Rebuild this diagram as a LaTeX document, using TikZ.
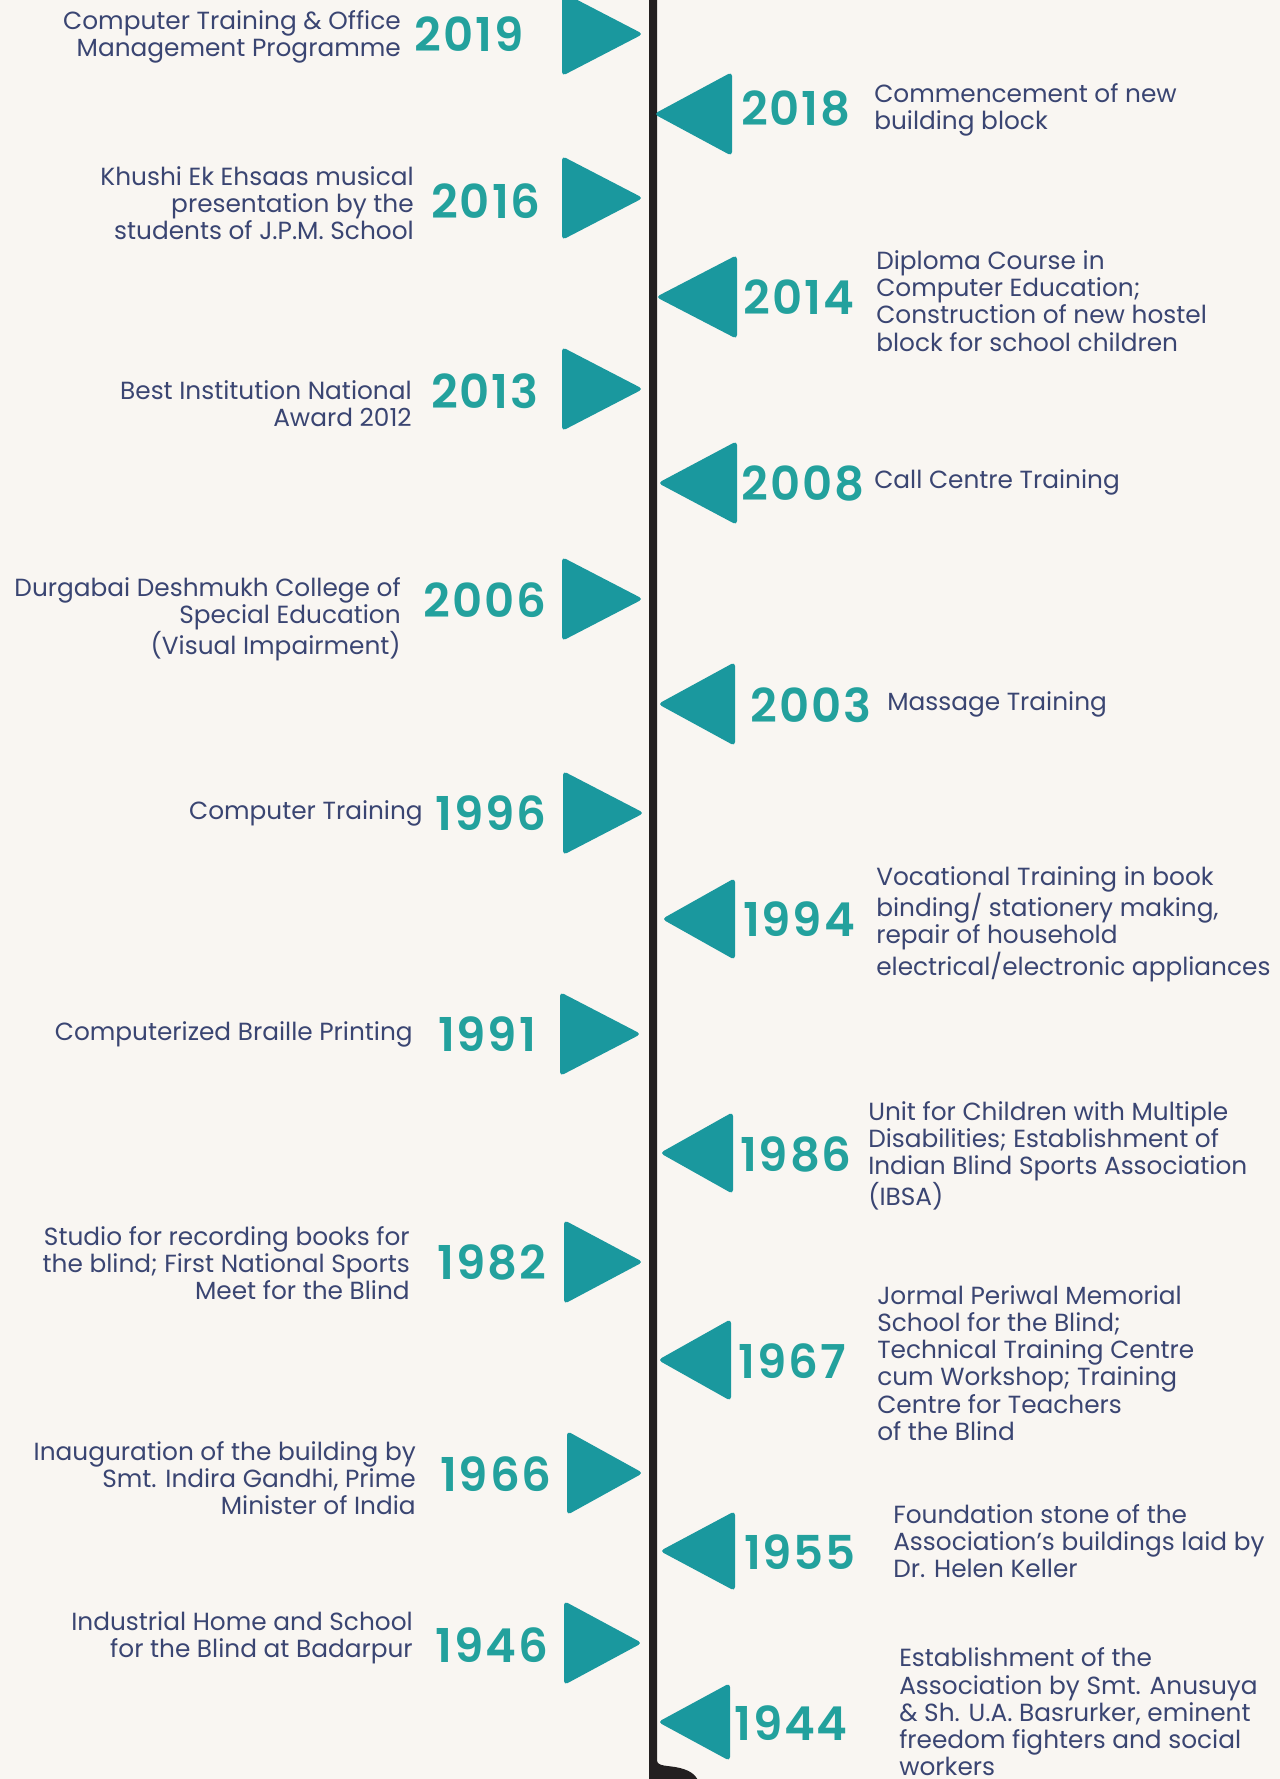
\documentclass[tikz,border=0pt]{standalone}
\usepackage{fontspec}
\setmainfont{Poppins}
\newfontfamily\yearfont{Poppins SemiBold}[LetterSpace=4]
\definecolor{paper}{HTML}{F9F6F2}
\definecolor{ink}{HTML}{3A4572}
\definecolor{tealyear}{HTML}{23A19D}
\definecolor{tealflag}{HTML}{1A989E}
\definecolor{spine}{HTML}{231F20}
\begin{document}
\begin{tikzpicture}[x=0.75pt, y=-0.75pt,
    flag/.style={fill=tealflag, rounded corners=3pt},
    year/.style={text=tealyear, font=\fontsize{35}{35}\selectfont\yearfont, inner sep=0pt},
    lnote/.style={text=ink, font=\fontsize{18.6}{20.4}\selectfont, align=right, anchor=east, inner sep=0pt},
    rnote/.style={lnote, align=left, anchor=west}]
    \useasboundingbox (0,0) rectangle (1280,1779);
    \fill[paper] (0,0) rectangle (1280,1779);
    % the spine
    \fill[spine] (649,-5) -- (657,-5) -- (657,1760) .. controls (657,1767) and (668,1765) .. (680,1768)
      .. controls (692,1771) and (697,1776) .. (700,1785) -- (649,1785) -- cycle;
    % left side
    \fill[flag] (562,-8) -- (643,34) -- (562,76) -- cycle;
    \node [year] (y2019) at (469,34) {2019};
    \node [lnote] (t2019) at (401,37) {Computer Training \& Office\\Management Programme};
    \fill[flag] (562,156) -- (643,198) -- (562,240) -- cycle;
    \node [year] (y2016) at (486,201) {2016};
    \node [lnote] (t2016) at (414,203) {Khushi Ek Ehsaas musical\\presentation by the\\students of J.P.M. School};
    \fill[flag] (562,347) -- (643,389) -- (562,431) -- cycle;
    \node [year] (y2013) at (485,391) {2013};
    \node [lnote] (t2013) at (412,404) {Best Institution National\\Award 2012};
    \fill[flag] (562,557) -- (643,599) -- (562,641) -- cycle;
    \node [year] (y2006) at (485,600) {2006};
    \node [lnote] (t2006) at (401,619) {Durgabai Deshmukh College of\\Special Education\\(Visual Impairment)};
    \fill[flag] (563,771) -- (644,813) -- (563,855) -- cycle;
    \node [year] (y1996) at (491,813) {1996};
    \node [lnote] (t1996) at (423,813) {Computer Training};
    \fill[flag] (560,992) -- (641,1034) -- (560,1076) -- cycle;
    \node [year] (y1991) at (487,1034) {1991};
    \node [lnote] (t1991) at (413,1034) {Computerized Braille Printing};
    \fill[flag] (564,1220) -- (643,1262) -- (564,1304) -- cycle;
    \node [year] (y1982) at (492,1262) {1982};
    \node [lnote] (t1982) at (410,1263) {Studio for recording books for\\the blind; First National Sports\\Meet for the Blind};
    \fill[flag] (567,1431) -- (643,1473) -- (567,1515) -- cycle;
    \node [year] (y1966) at (496,1474) {1966};
    \node [lnote] (t1966) at (416,1478) {Inauguration of the building by\\Smt. Indira Gandhi, Prime\\Minister of India};
    \fill[flag] (564,1601) -- (642,1643) -- (564,1685) -- cycle;
    \node [year] (y1946) at (492,1645) {1946};
    \node [lnote] (t1946) at (413,1638) {Industrial Home and School\\for the Blind at Badarpur};
    % right side
    \fill[flag] (732,72) -- (654,114) -- (732,156) -- cycle;
    \node [year] (y2018) at (796,108) {2018};
    \node [rnote] (t2018) at (874,110) {Commencement of new\\building block};
    \fill[flag] (737,255) -- (656,297) -- (737,339) -- cycle;
    \node [year] (y2014) at (799,297) {2014};
    \node [rnote] (t2014) at (876,301) {Diploma Course in\\Computer Education;\\Construction of new hostel\\block for school children};
    \fill[flag] (737,441) -- (658,483) -- (737,525) -- cycle;
    \node [year] (y2008) at (803,483) {2008};
    \node [rnote] (t2008) at (874,482) {Call Centre Training};
    \fill[flag] (735,662) -- (658,704) -- (735,746) -- cycle;
    \node [year] (y2003) at (811,705) {2003};
    \node [rnote] (t2003) at (887,704) {Massage Training};
    \fill[flag] (735,878) -- (662,919) -- (735,960) -- cycle;
    \node [year] (y1994) at (799,919) {1994};
    \node [rnote] (t1994) at (876,924) {Vocational Training in book\\binding/ stationery making,\\repair of household\\electrical/electronic appliances};
    \fill[flag] (733,1112) -- (660,1153) -- (733,1194) -- cycle;
    \node [year] (y1986) at (796,1154) {1986};
    \node [rnote] (t1986) at (868,1156) {Unit for Children with Multiple\\Disabilities; Establishment of\\Indian Blind Sports Association\\(IBSA)};
    \fill[flag] (731,1319) -- (658,1360) -- (731,1401) -- cycle;
    \node [year] (y1967) at (792,1361) {1967};
    \node [rnote] (t1967) at (877,1363) {Jormal Periwal Memorial\\School for the Blind;\\Technical Training Centre\\cum Workshop; Training\\Centre for Teachers\\of the Blind};
    \fill[flag] (735,1511) -- (660,1551) -- (735,1591) -- cycle;
    \node [year] (y1955) at (800,1552) {1955};
    \node [rnote] (t1955) at (893,1541) {Foundation stone of the\\Association's buildings laid by\\Dr. Helen Keller};
    \fill[flag] (730,1683) -- (658,1722) -- (730,1761) -- cycle;
    \node [year] (y1944) at (791,1723) {1944};
    \node [rnote] (t1944) at (899,1712) {Establishment of the\\Association by Smt. Anusuya\\\& Sh. U.A. Basrurker, eminent\\freedom fighters and social\\workers};
\end{tikzpicture}
\end{document}
